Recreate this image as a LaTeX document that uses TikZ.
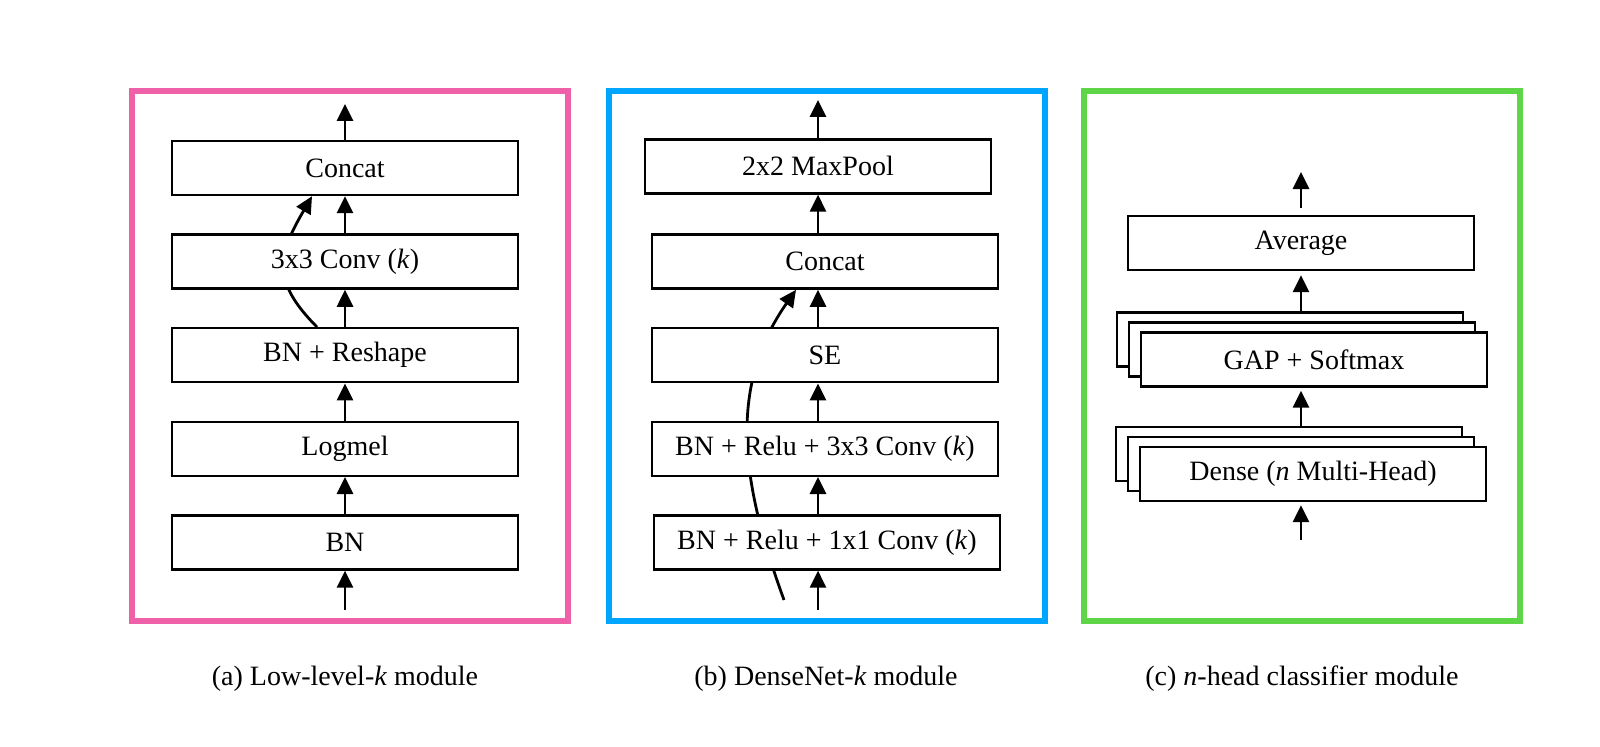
\documentclass[tikz,border=0pt]{standalone}
\usepackage{fontspec}
\setmainfont{Liberation Serif}
\usetikzlibrary{calc}
\usetikzlibrary{arrows.meta}
\usetikzlibrary{backgrounds}

\definecolor{pinkA}{RGB}{238,96,167}
\definecolor{blueB}{RGB}{0,165,255}
\definecolor{greenC}{RGB}{94,214,72}

\begin{document}
\begin{tikzpicture}[x=0.5pt,y=0.5pt,
  layer/.style={draw,line width=1.2pt,fill=white,minimum width=173pt,minimum height=27pt,inner sep=0pt,font=\fontsize{14}{17}\selectfont},
  frame/.style={line width=3pt},
  arr/.style={line width=1.4pt,-{Triangle[length=8.5pt,width=8pt]}},
  caption/.style={font=\fontsize{14}{17}\selectfont}]
\useasboundingbox (0,0) rectangle (1600,746);

% (a) low-level module
\draw[frame,pinkA] (132,125.5) rectangle (568,654.5);
\node[layer] (concatA) at (345,578) {Concat};
\node[layer] (convA) at (345,484.4) {3x3 Conv (\textit{k})};
\node[layer] (reshape) at (345,390.8) {BN + Reshape};
\node[layer] (logmel) at (345,297.2) {Logmel};
\node[layer] (bnA) at (345,203.6) {BN};
\coordinate (inA) at (345,136.5);
\coordinate (outA) at (345,642);
\draw[arr] (inA) -- (bnA.south);
\draw[arr] (bnA.north) -- (logmel.south);
\draw[arr] (logmel.north) -- (reshape.south);
\draw[arr] (reshape.north) -- (convA.south);
\draw[arr] (convA.north) -- (concatA.south);
\draw[arr] (concatA.north) -- (outA);
\begin{scope}[on background layer]
\draw[arr] ($(reshape.north)+(-28,0)$) to[out=135,in=240,looseness=1.3] ($(concatA.south)+(-33,0)$);
\end{scope}
\node[caption] (capA) at (345,67) {(a) Low-level-\textit{k} module};

% (b) densenet module
\draw[frame,blueB] (608.5,125.5) rectangle (1045,654.5);
\node[layer] (pool) at (818,579.6) {2x2 MaxPool};
\node[layer] (concatB) at (825,484.4) {Concat};
\node[layer] (se) at (825,390.8) {SE};
\node[layer] (c33) at (825,297.2) {BN + Relu + 3x3 Conv (\textit{k})};
\node[layer] (c11) at (827,203.6) {BN + Relu + 1x1 Conv (\textit{k})};
\coordinate (inB) at (818,136.5);
\coordinate (outB) at (818,646);
\coordinate (skipB) at (784,146);
\draw[arr] (inB) -- (c11.south -| pool);
\draw[arr] (c11.north -| pool) -- (c33.south -| pool);
\draw[arr] (c33.north -| pool) -- (se.south -| pool);
\draw[arr] (se.north -| pool) -- (concatB.south -| pool);
\draw[arr] (concatB.north -| pool) -- (pool.south);
\draw[arr] (pool.north) -- (outB);
\begin{scope}[on background layer]
\draw[arr] (skipB) to[out=110,in=235] ($(concatB.south)+(-29,0)$);
\end{scope}
\node[caption] (capB) at (826,67) {(b) DenseNet-\textit{k} module};

% (c) classifier module
\draw[frame,greenC] (1083.5,125.5) rectangle (1520,654.5);
\node[layer] (avg) at (1301,503) {Average};
\node[layer] (gap1) at (1290,406.5) {};
\node[layer] (gap2) at (1302,396.5) {};
\node[layer] (gap) at (1314,386.5) {GAP + Softmax};
\node[layer] (dense1) at (1289,292) {};
\node[layer] (dense2) at (1301,282) {};
\node[layer] (dense) at (1313,272) {Dense (\textit{n} Multi-Head)};
\coordinate (inC) at (1301,206);
\coordinate (outC) at (1301,574);
\draw[arr,shorten >=1.5pt] (inC) -- (dense.south -| avg);
\draw[arr,shorten >=1.5pt] (dense1.north -| avg) -- (gap.south -| avg);
\draw[arr,shorten >=2pt] (gap1.north -| avg) -- (avg.south);
\draw[arr,shorten <=3.5pt] (avg.north) -- (outC);
\node[caption] (capC) at (1302,67) {(c) \textit{n}-head classifier module};
\end{tikzpicture}
\end{document}
